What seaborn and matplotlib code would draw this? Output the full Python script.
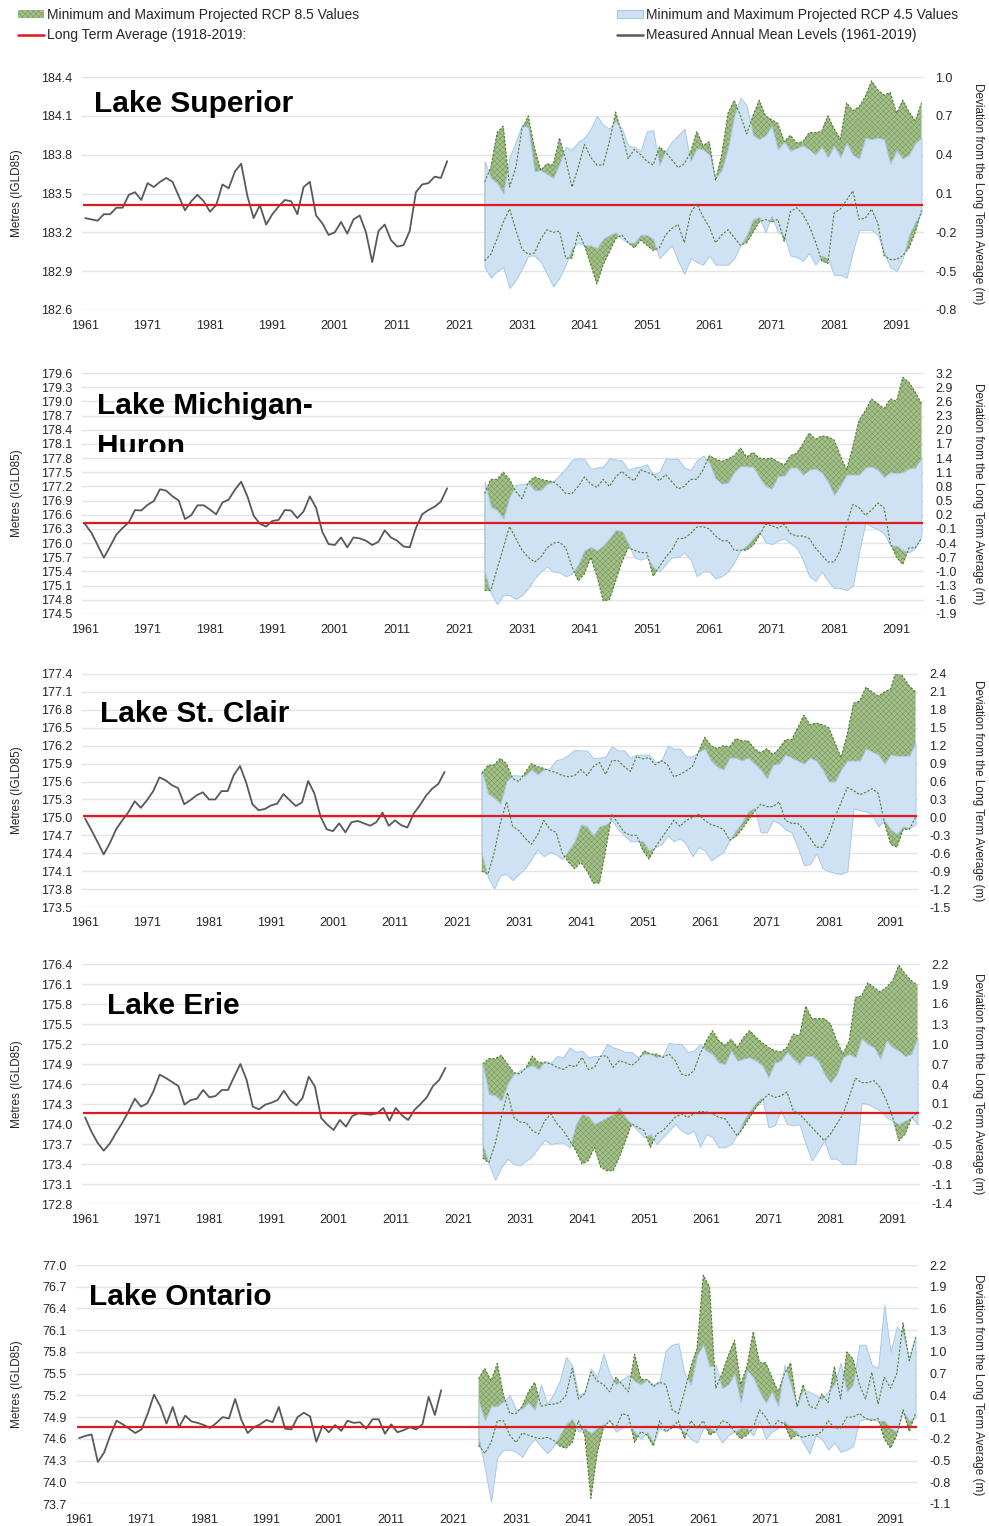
import matplotlib
matplotlib.use("Agg")
import matplotlib.pyplot as plt
import seaborn as sns
import numpy as np
from matplotlib.patches import Patch
from matplotlib.lines import Line2D
from matplotlib.transforms import Bbox, TransformedBbox

#%% data
meas_years = list(range(1961, 2020))
proj_years = list(range(2025, 2096))

# measured annual means (m, IGLD85)
sup_meas = [183.31,183.30,183.29,183.34,183.34,183.39,183.39,183.49,183.51,183.45,
            183.58,183.55,183.59,183.62,183.59,183.48,183.37,183.44,183.49,183.44,
            183.36,183.41,183.57,183.54,183.67,183.73,183.48,183.31,183.41,183.26,
            183.34,183.40,183.45,183.44,183.34,183.55,183.59,183.33,183.27,183.18,
            183.20,183.28,183.19,183.30,183.33,183.20,182.97,183.21,183.26,183.14,
            183.09,183.10,183.21,183.51,183.57,183.58,183.63,183.62,183.75]
mh_meas = [176.40,176.22,175.96,175.69,175.93,176.18,176.32,176.44,176.70,176.69,
           176.81,176.89,177.14,177.11,176.99,176.90,176.51,176.59,176.80,176.80,
           176.71,176.61,176.86,176.92,177.13,177.30,176.99,176.58,176.41,176.35,
           176.47,176.49,176.70,176.69,176.53,176.67,176.99,176.75,176.24,175.98,
           175.96,176.12,175.91,176.12,176.10,176.05,175.96,176.03,176.27,176.12,
           176.05,175.93,175.91,176.32,176.61,176.70,176.77,176.88,177.16]
stc_meas = [174.98,174.79,174.59,174.38,174.57,174.80,174.95,175.09,175.27,175.16,
            175.29,175.44,175.67,175.62,175.54,175.49,175.22,175.29,175.37,175.42,
            175.30,175.30,175.44,175.44,175.71,175.86,175.58,175.22,175.12,175.14,
            175.20,175.23,175.39,175.29,175.19,175.25,175.61,175.40,175.01,174.80,
            174.77,174.90,174.75,174.92,174.94,174.90,174.86,174.92,175.08,174.86,
            174.95,174.87,174.83,175.06,175.20,175.36,175.48,175.56,175.76]
eri_meas = [174.10,173.89,173.72,173.60,173.71,173.87,174.02,174.19,174.38,174.26,
            174.31,174.49,174.74,174.69,174.63,174.57,174.29,174.36,174.38,174.51,
            174.40,174.42,174.51,174.51,174.71,174.90,174.66,174.26,174.22,174.29,
            174.32,174.36,174.50,174.36,174.28,174.39,174.71,174.56,174.09,173.99,
            173.91,174.06,173.96,174.12,174.16,174.15,174.14,174.16,174.24,174.05,
            174.24,174.13,174.06,174.21,174.30,174.40,174.57,174.66,174.84]
ont_meas = [74.61,74.64,74.66,74.28,74.41,74.65,74.85,74.80,74.74,74.68,
            74.73,74.95,75.21,75.05,74.81,75.04,74.76,74.92,74.84,74.82,
            74.79,74.75,74.82,74.90,74.88,75.15,74.86,74.68,74.76,74.80,
            74.86,74.83,75.04,74.74,74.73,74.90,74.96,74.91,74.56,74.78,
            74.69,74.79,74.71,74.85,74.82,74.83,74.74,74.87,74.87,74.67,
            74.80,74.69,74.72,74.76,74.73,74.80,75.18,74.93,75.27]

# projected deviations from long term average (m), 2025-2095
sup_45_hi = [.35,.22,.18,.10,.38,.50,.63,.61,.27,.28,
             .25,.22,.33,.46,.44,.50,.53,.60,.70,.63,
             .60,.66,.60,.47,.46,.43,.58,.59,.32,.43,
             .50,.55,.60,.35,.45,.44,.40,.22,.28,.45,
             .70,.84,.78,.55,.52,.55,.62,.44,.50,.43,
             .45,.47,.44,.40,.46,.38,.47,.38,.49,.40,
             .37,.53,.52,.53,.52,.33,.43,.37,.40,.49,.53]
sup_45_lo = [-.47,-.55,-.50,-.47,-.63,-.57,-.48,-.38,-.38,-.43,
             -.52,-.62,-.55,-.45,-.32,-.28,-.30,-.30,-.32,-.25,
             -.22,-.20,-.25,-.28,-.28,-.22,-.22,-.25,-.40,-.35,
             -.30,-.42,-.52,-.40,-.43,-.45,-.38,-.45,-.45,-.45,
             -.40,-.30,-.22,-.10,-.08,-.20,-.07,-.20,-.22,-.38,
             -.39,-.42,-.36,-.45,-.38,-.40,-.53,-.53,-.55,-.35,
             -.18,-.18,-.18,-.22,-.35,-.47,-.50,-.40,-.22,-.12,-.05]
sup_85_hi = [.19,.30,.57,.62,.15,.30,.60,.70,.45,.28,
             .33,.32,.53,.36,.15,.30,.48,.38,.32,.32,
             .50,.73,.56,.37,.44,.40,.35,.32,.46,.42,
             .36,.30,.33,.42,.58,.47,.50,.20,.40,.72,
             .82,.70,.56,.70,.82,.70,.67,.64,.50,.55,
             .49,.50,.57,.57,.58,.70,.60,.52,.80,.74,
             .77,.85,.97,.90,.86,.88,.72,.82,.73,.66,.80]
sup_85_lo = [-.42,-.37,-.25,-.12,-.02,-.18,-.33,-.37,-.36,-.25,
             -.18,-.20,-.19,-.40,-.40,-.20,-.30,-.45,-.60,-.45,
             -.35,-.25,-.22,-.28,-.32,-.26,-.30,-.34,-.32,-.22,
             -.17,-.14,-.28,-.05,.02,-.08,-.16,-.28,-.22,-.18,
             -.24,-.30,-.28,-.20,-.12,-.10,-.12,-.10,-.27,-.04,
             -.01,-.06,-.15,-.27,-.42,-.44,-.05,-.02,.05,.12,
             -.10,-.09,-.02,-.13,-.38,-.41,-.41,-.38,-.32,-.20,-.03]

mh_45_hi = [.90,.37,.30,.12,.58,.83,.85,.87,.72,.72,
            .85,.90,1.04,1.18,1.36,1.40,1.38,1.17,1.20,1.22,
            1.40,1.37,1.35,1.15,1.20,1.22,1.27,1.05,1.10,1.39,
            1.38,1.38,1.20,1.15,1.35,1.45,1.30,.97,.86,.88,
            1.11,1.23,1.22,1.22,1.00,.81,.75,1.02,1.02,1.20,
            1.20,1.05,1.15,1.18,1.10,.90,.62,.82,1.05,1.05,
            1.05,1.20,1.22,1.15,1.00,1.10,1.08,1.10,1.18,1.20,1.40]
mh_45_lo = [-1.00,-1.45,-1.69,-1.50,-1.50,-1.58,-1.50,-1.35,-1.15,-1.00,
            -.90,-1.00,-1.02,-1.10,-1.05,-.85,-.55,-.48,-.55,-.45,
            -.30,-.12,-.15,-.40,-.70,-.75,-.70,-.90,-1.00,-.85,
            -.70,-.70,-.60,-.75,-1.10,-1.00,-1.00,-1.15,-1.10,-1.00,
            -.80,-.55,-.45,-.30,-.15,-.38,-.42,-.35,-.30,-.40,
            -.50,-.75,-1.10,-1.20,-1.00,-1.20,-1.35,-1.35,-1.40,-1.30,
            -.60,.03,-.05,-.10,-.20,-.45,-.45,-.55,-.60,-.50,-.25]
mh_85_hi = [.65,.95,.95,1.10,.95,.69,.54,.88,1.00,.95,
            .92,.90,.80,.65,.65,.80,1.00,.85,.78,.95,
            .80,1.00,1.12,1.00,.92,1.15,1.10,1.05,.92,1.05,
            .90,.75,.80,.95,.95,1.15,1.45,1.38,1.33,1.38,
            1.45,1.61,1.42,1.52,1.40,1.38,1.40,1.32,1.25,1.45,
            1.50,1.70,1.93,1.80,1.87,1.85,1.78,1.45,1.15,1.65,
            2.20,2.40,2.65,2.55,2.45,2.65,2.60,3.11,3.00,2.80,2.55]
mh_85_lo = [-1.40,-1.40,-.95,-.50,-.05,-.30,-.55,-.70,-.80,-.70,
            -.50,-.40,-.38,-.50,-.90,-1.20,-1.05,-.70,-1.10,-1.62,
            -1.60,-1.20,-.80,-.50,-.55,-.60,-.60,-1.10,-.90,-.70,
            -.55,-.30,-.30,-.20,-.06,-.05,-.10,-.25,-.35,-.35,
            -.55,-.55,-.55,-.45,-.25,.00,-.03,-.08,.00,-.20,
            -.25,-.25,-.30,-.50,-.65,-.80,-.80,-.55,.00,.42,
            .35,.19,.30,.45,.35,-.40,-.70,-.85,-.50,-.50,-.30]

stc_45_hi = [.79,.40,.33,.23,.60,.71,.70,.70,.80,.72,
             .80,.82,.96,.98,1.05,1.13,1.12,1.12,.99,1.00,
             1.02,1.19,1.12,1.12,1.00,1.05,1.05,1.05,.93,.95,
             1.20,1.15,1.15,1.02,1.02,1.10,1.15,.95,.85,.80,
             1.00,1.00,.95,1.00,.90,.80,.65,.88,.90,1.05,
             1.00,.95,.90,1.00,.95,.80,.60,.60,.80,.95,
             .95,.95,1.15,1.10,1.05,.90,1.05,1.03,1.03,1.03,1.25]
stc_45_lo = [-.60,-1.00,-1.19,-.97,-.95,-1.05,-.95,-.85,-.70,-.54,
             -.65,-.58,-.62,-.70,-.55,-.40,-.12,-.15,-.30,-.15,
             -.12,-.05,-.20,-.30,-.40,-.40,-.40,-.55,-.50,-.45,
             -.30,-.40,-.35,-.45,-.65,-.50,-.55,-.72,-.65,-.58,
             -.38,-.22,-.08,.10,.16,-.25,-.25,-.05,-.10,-.20,
             -.25,-.50,-.80,-.78,-.60,-.85,-.90,-.93,-.95,-.90,
             .15,.12,.10,.05,-.15,-.05,-.20,-.28,-.15,-.18,-.12]
stc_85_hi = [.73,.87,.88,.99,.90,.65,.60,.75,.90,.85,
             .82,.78,.75,.70,.68,.70,.80,.70,.85,.92,
             .72,.95,.95,.85,.77,1.02,.98,1.00,.88,.95,
             .88,.68,.72,.78,.85,1.10,1.34,1.20,1.15,1.20,
             1.18,1.32,1.28,1.28,1.15,1.08,1.15,1.05,1.15,1.30,
             1.30,1.50,1.71,1.55,1.58,1.55,1.50,1.25,1.00,1.40,
             1.91,1.95,2.18,2.10,2.03,2.10,2.15,2.50,2.35,2.20,2.10]
stc_85_lo = [-.90,-.95,-.60,-.10,.26,-.15,-.22,-.35,-.45,-.30,
             -.05,-.20,-.25,-.60,-.75,-.86,-.75,-.90,-1.10,-1.10,
             -.55,.05,-.10,-.25,-.30,-.30,-.55,-.70,-.50,-.35,
             -.20,-.05,-.15,-.05,.00,.05,-.05,-.12,-.15,-.20,
             -.38,-.32,-.20,-.05,.10,.22,.18,.18,.26,-.05,
             -.10,-.10,-.20,-.35,-.50,-.50,-.30,.00,.25,.50,
             .45,.38,.42,.48,.40,-.10,-.45,-.50,-.20,-.20,.00]

eri_45_hi = [.70,.25,.23,.15,.40,.55,.60,.65,.68,.62,
             .75,.72,.82,.80,.95,.88,.90,.80,.82,.82,
             1.00,.95,.92,.88,.88,.80,.85,.85,.80,.83,
             1.02,1.00,1.00,.88,.90,1.00,.90,.85,.72,.70,
             .90,.75,.78,.80,.75,.68,.50,.72,.75,.88,
             .78,.70,.82,.82,.75,.55,.42,.55,.80,.85,
             .80,1.08,1.00,.95,.78,1.05,.95,.90,.82,.85,1.10]
eri_45_lo = [-.50,-.80,-1.04,-.85,-.72,-.80,-.82,-.75,-.68,-.55,
             -.44,-.50,-.48,-.48,-.55,-.20,-.05,-.08,-.20,-.15,
             -.10,-.05,.05,-.10,-.20,-.30,-.40,-.35,-.50,-.40,
             -.30,-.20,-.30,-.35,-.30,-.54,-.35,-.40,-.55,-.55,
             -.50,-.35,-.15,.00,.12,.20,-.25,-.22,.00,-.20,
             -.22,-.20,-.50,-.75,-.60,-.45,-.72,-.72,-.80,-.80,
             -.80,.12,.10,.05,.00,-.10,-.15,-.20,-.15,-.10,-.20]
eri_85_hi = [.70,.78,.78,.83,.70,.57,.55,.65,.82,.72,
             .72,.70,.65,.62,.68,.66,.80,.62,.65,.82,
             .82,.65,.75,.72,.68,.75,.90,.85,.85,.80,
             .85,.75,.55,.52,.60,.85,1.05,1.20,1.05,.98,
             1.07,.95,1.10,1.20,1.10,1.02,.95,.90,.88,.95,
             1.15,1.12,1.57,1.38,1.38,1.38,1.30,1.05,.85,1.05,
             1.70,1.72,1.92,1.85,1.78,1.85,1.95,2.18,2.05,1.95,1.88]
eri_85_lo = [-.71,-.78,-.50,-.10,.27,-.10,-.17,-.18,-.30,-.35,
             -.15,-.05,-.20,-.30,-.45,-.60,-.80,-.75,-.55,-.85,
             -.90,-.90,-.70,-.45,-.20,-.25,-.30,-.55,-.35,-.30,
             -.20,-.10,-.05,-.10,-.05,-.01,-.02,-.05,-.10,-.12,
             -.25,-.38,-.25,-.10,.05,.15,.25,.20,.22,.28,
             .00,-.05,-.15,-.25,-.35,-.45,-.35,-.20,-.05,.20,
             .49,.42,.42,.45,.35,.15,-.10,-.45,-.35,-.12,-.02]

ont_45_hi = [.32,.05,.25,.25,.32,.40,.20,.22,.30,.20,
             .55,.28,.42,.60,.93,.82,.40,.45,.77,.65,
             .98,.70,.55,.62,.68,.60,.55,.62,.55,.60,
             1.02,1.10,1.12,.70,.55,.95,1.10,.80,.82,.50,
             .55,.70,.30,.75,.65,.45,.30,.45,.25,.82,
             .55,.25,.48,.45,.40,.35,.45,.55,.85,.45,
             .55,1.10,1.10,.82,.78,1.65,1.00,1.35,1.25,.90,1.22]
ont_45_lo = [-.17,-.60,-1.07,-.45,-.35,-.35,-.38,-.45,-.30,-.20,
             -.30,-.40,-.30,-.15,.00,.08,-.10,-.05,-.12,-.05,
             .00,.05,-.10,-.05,.02,-.10,-.20,-.10,-.25,-.05,
             -.10,.00,-.05,-.10,-.20,-.25,-.05,-.05,-.10,-.25,
             -.15,-.10,-.05,-.05,-.15,.05,-.20,-.10,-.05,.05,
             -.05,-.10,-.25,-.40,-.15,-.20,-.35,-.25,-.38,-.35,
             -.30,.05,.08,.08,.05,.05,-.05,-.10,.18,.05,.10]
ont_85_hi = [.63,.77,.60,.84,.40,.15,.15,.25,.45,.58,
             .25,.27,.28,.30,.40,.77,.35,.42,.72,.60,
             .55,.45,.65,.55,.45,.97,.62,.62,.52,.58,
             .55,.20,.15,.45,.80,1.05,2.06,1.90,.50,.70,
             .95,1.16,.55,.80,1.28,.85,.85,.65,.45,.70,
             .85,.25,.55,.25,.22,.42,.30,.80,.35,1.00,
             .90,.55,.35,.72,.28,.65,.50,.70,1.40,.88,1.20]
ont_85_lo = [-.29,-.40,-.25,.05,.05,-.15,-.25,-.12,-.15,-.18,
             -.20,-.18,-.22,-.30,-.33,-.25,.05,-.15,-1.02,-.40,
             -.05,.05,-.05,.15,.12,-.25,-.10,-.15,-.30,.05,
             -.10,-.05,.05,-.20,.05,-.05,.05,-.15,-.10,.05,
             .02,-.10,-.20,-.15,-.05,.20,.10,-.05,.05,.00,
             -.20,-.15,-.18,-.15,-.15,-.10,.05,-.05,-.05,.10,
             .10,.15,.08,.05,.08,-.20,-.33,-.15,.20,-.10,.15]

lake_names = ["Lake Superior", "Lake Michigan-", "Lake St. Clair", "Lake Erie", "Lake Ontario"]
long_term_avg = [183.41, 176.43, 175.03, 174.17, 74.77]
dev_offset = [183.4, 176.4, 175.0, 174.2, 74.8]
y_limits = [(182.6, 184.4), (174.5, 179.6), (173.5, 177.4), (172.8, 176.4), (73.7, 77.0)]

measured = [sup_meas, mh_meas, stc_meas, eri_meas, ont_meas]
rcp45 = [(sup_45_lo, sup_45_hi), (mh_45_lo, mh_45_hi), (stc_45_lo, stc_45_hi),
         (eri_45_lo, eri_45_hi), (ont_45_lo, ont_45_hi)]
rcp85 = [(sup_85_lo, sup_85_hi), (mh_85_lo, mh_85_hi), (stc_85_lo, stc_85_hi),
         (eri_85_lo, eri_85_hi), (ont_85_lo, ont_85_hi)]

#%% layout (pixels of the 989x1526 canvas)
W, H = 989, 1526
boxes = [(82, 924, 77, 310), (82, 924, 373, 614), (82, 918, 674, 907),
         (82, 920, 964, 1204), (76, 918, 1265, 1504)]
title_pos = [(94, 112), (97, 414), (100, 722), (107, 1014), (89, 1305)]

BLUE = "#cfe2f3"
BLUE_EDGE = "#a8c9e8"
GREEN = "#a3bf8a"
GREEN_HATCH = "#739556"
GREEN_LINE = "#4e7d30"
RED = "#e0191c"
GREY = "#595959"
TXT = "#262626"

sns.set_theme(style="white")
plt.rcParams["font.family"] = ["Liberation Sans", "DejaVu Sans"]
plt.rcParams["hatch.linewidth"] = 0.35

fig = plt.figure(figsize=(W / 100, H / 100), dpi=100)


def px_box(l, r, t, b):
    return [l / W, 1 - b / H, (r - l) / W, (b - t) / H]


for i in range(5):
    l, r, t, b = boxes[i]
    lo, hi = y_limits[i]
    off = dev_offset[i]
    ax = fig.add_axes(px_box(l, r, t, b))
    ax.set_xlim(1960.5, 2095.4)
    ax.set_ylim(lo, hi)
    ticks = np.round(np.arange(lo, hi + 0.01, 0.3), 1)
    ax.set_yticks(ticks)
    ax.set_yticklabels([f"{v:.1f}" for v in ticks])
    ax.set_xticks(list(range(1961, 2092, 10)))
    ax.yaxis.grid(True, color="#e4e4e4", linewidth=1.0)
    ax.xaxis.grid(False)
    ax.set_axisbelow(True)
    for s in ax.spines.values():
        s.set_visible(False)
    ax.tick_params(axis="x", length=0, pad=7, labelsize=9, labelcolor=TXT)
    ax.tick_params(axis="y", length=0, pad=7, labelsize=9, labelcolor=TXT)

    sns.lineplot(x=meas_years, y=measured[i], ax=ax, color=GREY, linewidth=1.3)
    ax.set_xlabel("")
    ax.set_ylabel("Metres (IGLD85)", fontsize=8.5, color=TXT)
    ax.yaxis.set_label_coords((23 - l) / (r - l), 0.5)

    ax2 = ax.twinx()
    ax2.set_ylim(lo - off, hi - off)
    rticks = ticks - off
    ax2.set_yticks(rticks)
    ax2.set_yticklabels([f"{round(v, 1) + 0.0:.1f}" for v in rticks])
    for s in ax2.spines.values():
        s.set_visible(False)
    ax2.tick_params(axis="y", length=0, pad=8, labelsize=9, labelcolor=TXT)
    ax2.grid(False)

    g_lo, g_hi = rcp85[i]
    b_lo, b_hi = rcp45[i]
    ax2.fill_between(proj_years, g_lo, g_hi, facecolor=GREEN, edgecolor=GREEN_HATCH,
                     hatch="xxxxxx", linewidth=0, zorder=1)
    ax2.fill_between(proj_years, b_lo, b_hi, facecolor=BLUE, edgecolor=BLUE_EDGE,
                     linewidth=0.7, zorder=2)
    ax2.hlines(long_term_avg[i] - off, 1960.6, 2095.3, color=RED, linewidth=1.6, zorder=3)
    for ser in (g_lo, g_hi):
        ax2.plot(proj_years, ser, color=GREEN_LINE, linewidth=0.8,
                 linestyle=(0, (2, 1.5)), zorder=4)

    ax2.set_ylabel("Deviation from the Long Term Average (m)", fontsize=8.5,
                   color=TXT, rotation=270, va="bottom")
    ax2.yaxis.set_label_coords((972 - l) / (r - l), 0.5)

    tx, ty = title_pos[i]
    fig.text(tx / W, 1 - ty / H, lake_names[i], fontsize=21.5, fontweight="bold",
             color="black", va="baseline", ha="left")
    if i == 1:
        t2 = fig.text(tx / W, 1 - 455 / H, "Huron", fontsize=21.5, fontweight="bold",
                      color="black", va="baseline", ha="left")
        t2.set_clip_on(True)
        t2.set_clip_box(TransformedBbox(Bbox([[0, 1 - 452 / H], [1, 1]]), fig.transFigure))

#%% legends
h85 = Patch(facecolor=GREEN, edgecolor=GREEN_HATCH, hatch="xxxxxx", linewidth=0)
h45 = Patch(facecolor=BLUE, edgecolor=BLUE_EDGE, linewidth=0.8)
hred = Line2D([], [], color=RED, linewidth=1.8)
hgrey = Line2D([], [], color=GREY, linewidth=1.8)
leg_kw = dict(loc="upper left", frameon=False, fontsize=10, handlelength=1.9,
              handleheight=0.55, handletextpad=0.2, labelspacing=0.45,
              borderpad=0, borderaxespad=0, labelcolor=TXT)
fig.legend([h85, hred], ["Minimum and Maximum Projected RCP 8.5 Values",
                         "Long Term Average (1918-2019:"],
           bbox_to_anchor=(18 / W, 1 - 8 / H), **leg_kw)
fig.legend([h45, hgrey], ["Minimum and Maximum Projected RCP 4.5 Values",
                          "Measured Annual Mean Levels (1961-2019)"],
           bbox_to_anchor=(617 / W, 1 - 8 / H), **leg_kw)

fig.savefig("out.png", dpi=100)
